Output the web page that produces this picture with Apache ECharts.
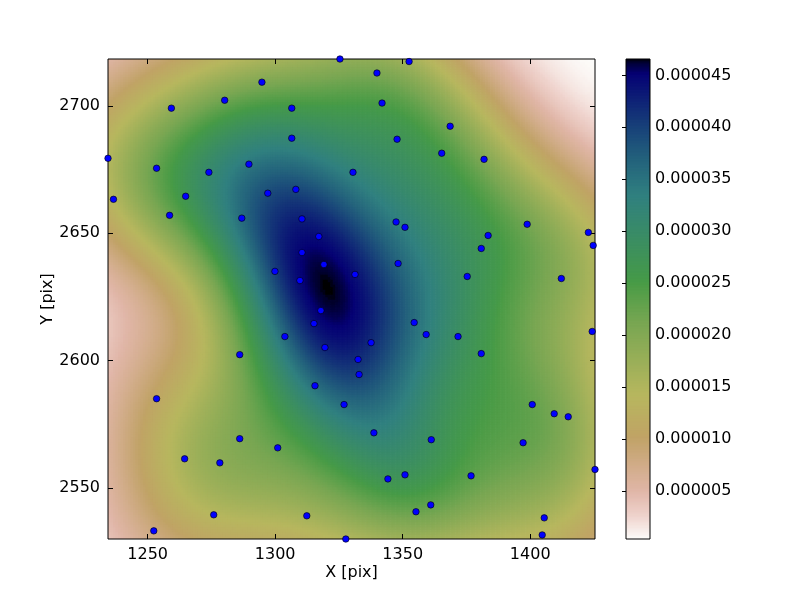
<!DOCTYPE html>
<html><head><meta charset="utf-8">
<script src="https://cdn.jsdelivr.net/npm/echarts@6/dist/echarts.min.js"></script>
<style>html,body{margin:0;padding:0;background:#fff}#c{width:800px;height:600px}</style>
</head><body><div id="c"></div>
<script>
// Scatter points (pixel coordinates of sources)
const pointsX = [1234.45,1236.6,1259.3,1280.2,1294.8,1253.5,1274.0,1289.7,1264.9,1297.1,
  1308.1,1258.6,1286.9,1310.5,1306.5,1306.5,1325.4,1352.5,1339.9,1341.9,
  1347.8,1330.5,1368.6,1365.3,1381.9,1347.4,1350.9,1317.1,1310.5,1319.1,
  1299.9,1309.7,1331.3,1348.2,1398.8,1383.5,1422.8,1424.7,1380.8,1375.3,
  1412.2,1317.9,1315.2,1303.8,1354.5,1359.2,1337.6,1319.5,1332.5,1332.9,
  1371.7,1380.8,1424.3,1286.1,1253.5,1286.1,1264.5,1278.3,1275.9,1252.4,
  1315.6,1327.0,1338.7,1301.0,1350.9,1344.2,1355.2,1361.0,1312.4,1327.7,
  1400.8,1409.4,1414.9,1361.2,1397.2,1425.4,1376.8,1405.5,1404.7];
const pointsY = [2679.4,2663.3,2699.1,2702.2,2709.3,2675.5,2673.9,2677.1,2664.5,2665.7,
  2667.2,2657.0,2655.9,2655.6,2699.1,2687.3,2718.4,2717.4,2712.9,2701.1,
  2686.9,2673.9,2692.0,2681.4,2679.0,2654.4,2652.3,2648.7,2642.4,2637.7,
  2635.0,2631.4,2633.8,2638.1,2653.5,2649.1,2650.3,2645.2,2644.0,2633.0,
  2632.2,2619.6,2614.5,2609.4,2614.9,2610.2,2607.0,2605.1,2600.4,2594.5,
  2609.4,2602.7,2611.4,2602.3,2585.0,2569.3,2561.4,2559.8,2539.4,2533.1,
  2590.1,2582.7,2571.6,2565.7,2555.1,2553.5,2540.6,2543.3,2539.0,2529.9,
  2582.7,2579.1,2577.9,2568.9,2567.7,2557.2,2554.7,2538.2,2531.5];
const xTicks = [1250, 1300, 1350, 1400];
const yTicks = [2550, 2600, 2650, 2700];
const cbTicks = [0.000005, 0.000010, 0.000015, 0.000020, 0.000025, 0.000030, 0.000035, 0.000040, 0.000045];

// gist_earth colormap segment data
const GE = {
  r: [[0,0],[0.2824,0.1882],[0.4588,0.2714],[0.5490,0.4719],[0.6980,0.7176],[0.7882,0.7553],[1,0.9922]],
  g: [[0,0],[0.0275,0],[0.1098,0.1893],[0.1647,0.3035],[0.2078,0.3841],[0.2824,0.5020],[0.5216,0.6397],[0.6980,0.7171],[0.7882,0.6392],[0.8157,0.6549],[0.8667,0.6900],[0.9,0.7150],[0.95,0.8250],[1,0.9922]],
  b: [[0,0],[0.0039,0.1684],[0.0078,0.2212],[0.0275,0.4329],[0.0314,0.4549],[0.2824,0.5004],[0.4667,0.2748],[0.5451,0.3205],[0.7843,0.3961],[0.8941,0.6451],[0.95,0.80],[1,0.9843]]
};
function seg(list, t) {
  for (let i = 1; i < list.length; i++) {
    if (t <= list[i][0]) {
      const a = list[i-1], b = list[i];
      return a[1] + (b[1]-a[1]) * (t - a[0]) / (b[0]-a[0]);
    }
  }
  return list[list.length-1][1];
}
const LUT = [];
for (let i = 0; i < 512; i++) {
  const t = 1 - i / 511; // reversed
  LUT.push('rgb(' + Math.round(seg(GE.r,t)*255) + ',' + Math.round(seg(GE.g,t)*255) + ',' + Math.round(seg(GE.b,t)*255) + ')');
}

// Gaussian KDE (Scott's rule)
const n = pointsX.length;
let mx = 0, my = 0;
for (let i = 0; i < n; i++) { mx += pointsX[i]; my += pointsY[i]; }
mx /= n; my /= n;
let sxx = 0, syy = 0, sxy = 0;
for (let i = 0; i < n; i++) { const dx = pointsX[i]-mx, dy = pointsY[i]-my; sxx += dx*dx; syy += dy*dy; sxy += dx*dy; }
sxx /= (n-1); syy /= (n-1); sxy /= (n-1);
const f2 = Math.pow(n, -1/3);
const cxx = sxx*f2, cyy = syy*f2, cxy = sxy*f2;
const det = cxx*cyy - cxy*cxy;
const ixx = cyy/det, iyy = cxx/det, ixy = -cxy/det;
const norm = 1 / (2*Math.PI*Math.sqrt(det)) / n;
function kde(x, y) {
  let s = 0;
  for (let i = 0; i < n; i++) {
    const dx = x - pointsX[i], dy = y - pointsY[i];
    s += Math.exp(-0.5*(ixx*dx*dx + 2*ixy*dx*dy + iyy*dy*dy));
  }
  return s * norm;
}

const xmin = Math.min(...pointsX), xmax = Math.max(...pointsX);
const ymin = Math.min(...pointsY), ymax = Math.max(...pointsY);

let vmin = Infinity, vmax = -Infinity;
for (let i = 0; i < 100; i++) for (let j = 0; j < 100; j++) {
  const v = kde(xmin + (xmax-xmin)*i/99, ymin + (ymax-ymin)*j/99);
  if (v < vmin) vmin = v; if (v > vmax) vmax = v;
}

const NX = 195, NY = 192;
const cells = [];
const dxs = (xmax-xmin)/NX, dys = (ymax-ymin)/NY;
for (let i = 0; i < NX; i++) for (let j = 0; j < NY; j++) {
  const x0 = xmin + i*dxs, y0 = ymin + j*dys;
  cells.push([x0, y0, x0+dxs, y0+dys, kde(x0+dxs/2, y0+dys/2)]);
}
function colorOf(v) {
  let t = (v - vmin) / (vmax - vmin);
  t = Math.max(0, Math.min(1, t));
  return LUT[Math.round(t*511)];
}
const cbSlices = [];
const NS = 320;
for (let k = 0; k < NS; k++) cbSlices.push([vmin + (vmax-vmin)*k/NS, vmin + (vmax-vmin)*(k+1)/NS]);

const FONT = 'DejaVu Sans';
const chart = echarts.init(document.getElementById('c'), null, {renderer: 'canvas'});
const tickStyle = {show: true, inside: true, length: 5, lineStyle: {color: '#000', width: 1}};
chart.setOption({
  animation: false,
  backgroundColor: '#fff',
  textStyle: {fontFamily: FONT},
  grid: [
    {left: 108, top: 59, width: 487, height: 480, show: true, borderColor: '#000', borderWidth: 1, backgroundColor: 'transparent', z: 10},
    {left: 626, top: 59, width: 24, height: 480, show: true, borderColor: '#000', borderWidth: 1, backgroundColor: 'transparent', z: 10}
  ],
  xAxis: [
    {type: 'value', gridIndex: 0, min: xmin, max: xmax, position: 'bottom', z: 11,
     name: 'X [pix]', nameLocation: 'middle', nameGap: 26, nameMoveOverlap: false,
     nameTextStyle: {fontSize: 16, color: '#000', fontFamily: FONT},
     axisLine: {show: false}, splitLine: {show: false},
     axisTick: Object.assign({customValues: xTicks}, tickStyle),
     axisLabel: {customValues: xTicks, margin: 8, fontSize: 16, color: '#000', fontFamily: FONT, formatter: v => String(v)}},
    {type: 'value', gridIndex: 0, min: xmin, max: xmax, position: 'top', z: 11,
     axisLine: {show: false}, splitLine: {show: false},
     axisTick: Object.assign({customValues: xTicks}, tickStyle), axisLabel: {show: false}},
    {type: 'value', gridIndex: 1, min: 0, max: 1, show: false}
  ],
  yAxis: [
    {type: 'value', gridIndex: 0, min: ymin, max: ymax, position: 'left', z: 11,
     name: 'Y [pix]', nameLocation: 'middle', nameGap: 52, nameRotate: 90, nameMoveOverlap: false,
     nameTextStyle: {fontSize: 16, color: '#000', fontFamily: FONT},
     axisLine: {show: false}, splitLine: {show: false},
     axisTick: Object.assign({customValues: yTicks}, tickStyle),
     axisLabel: {customValues: yTicks, margin: 8, fontSize: 16, color: '#000', fontFamily: FONT, formatter: v => String(v)}},
    {type: 'value', gridIndex: 0, min: ymin, max: ymax, position: 'right', z: 11,
     axisLine: {show: false}, splitLine: {show: false},
     axisTick: Object.assign({customValues: yTicks}, tickStyle), axisLabel: {show: false}},
    {type: 'value', gridIndex: 1, min: vmin, max: vmax, position: 'right', z: 11,
     axisLine: {show: false}, splitLine: {show: false},
     axisTick: Object.assign({customValues: cbTicks}, tickStyle, {length: 4}),
     axisLabel: {customValues: cbTicks, margin: 5, fontSize: 16, color: '#000', fontFamily: FONT,
       formatter: v => v.toFixed(6)}}
  ],
  series: [
    {type: 'custom', xAxisIndex: 0, yAxisIndex: 0, data: cells, clip: true, z: 1, silent: true,
     progressive: 0, progressiveThreshold: 1e9,
     encode: {x: [0, 2], y: [1, 3]},
     renderItem: (params, api) => {
       const p0 = api.coord([api.value(0), api.value(3)]);
       const p1 = api.coord([api.value(2), api.value(1)]);
       return {type: 'rect', shape: {x: p0[0], y: p0[1], width: p1[0]-p0[0]+0.7, height: p1[1]-p0[1]+0.7},
               style: {fill: colorOf(api.value(4))}};
     }},
    {type: 'scatter', xAxisIndex: 0, yAxisIndex: 0, z: 20, clip: true, silent: true,
     data: pointsX.map((x, i) => [x, pointsY[i]]),
     symbolSize: 6.5, itemStyle: {color: '#0000ff', borderColor: '#000', borderWidth: 0.6, opacity: 1}},
    {type: 'custom', xAxisIndex: 2, yAxisIndex: 2, data: cbSlices, clip: true, z: 1, silent: true,
     encode: {y: [0, 1]},
     renderItem: (params, api) => {
       const p0 = api.coord([0, api.value(1)]);
       const p1 = api.coord([1, api.value(0)]);
       const v = (api.value(0) + api.value(1)) / 2;
       return {type: 'rect', shape: {x: p0[0], y: p0[1], width: p1[0]-p0[0], height: p1[1]-p0[1]+0.7},
               style: {fill: colorOf(v)}};
     }}
  ]
});
</script></body></html>
